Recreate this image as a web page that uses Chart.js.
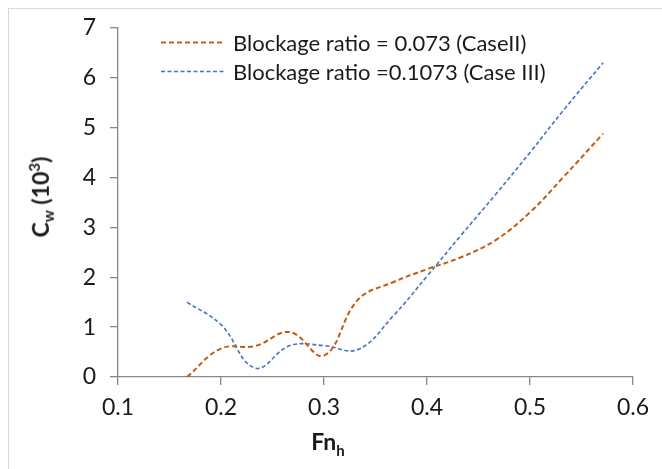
<!DOCTYPE html>
<html>
<head>
<meta charset="utf-8">
<script src="https://cdn.jsdelivr.net/npm/chart.js@4"></script>
<style>
  html, body { margin: 0; padding: 0; background: #fff; }
  #wrap { position: relative; width: 662px; height: 469px; overflow: hidden; }
  #frame { position: absolute; left: 8px; top: 8px; width: 700px; height: 500px; border: 1px solid #d9d9d9; }
  #myChart { position: absolute; left: 0; top: 0; }
  .titulo { position: absolute; font-family: Lato, "Open Sans", sans-serif; font-weight: bold; font-size: 23px; color: #1a1a1a; white-space: nowrap; }
  .titulo sub, .titulo sup { font-size: 15px; }
  #tituloY { left: 41px; top: 197px; transform: translate(-50%, -50%) rotate(-90deg); }
  #tituloX { left: 328px; top: 443px; transform: translate(-50%, -50%); }
</style>
</head>
<body>
<div id="wrap">
  <div id="frame"></div>
  <canvas id="myChart" width="662" height="469"></canvas>
  <div class="titulo" id="tituloY">C<sub>w</sub> (10<sup>3</sup>)</div>
  <div class="titulo" id="tituloX">Fn<sub>h</sub></div>
</div>
<script>
// valores
var fnh = [0.167, 0.2, 0.233, 0.267, 0.3, 0.333, 0.367, 0.4, 0.433, 0.467, 0.5, 0.533, 0.571];
var casoII = [0, 0.57, 0.62, 0.9, 0.43, 1.55, 1.9, 2.16, 2.4, 2.75, 3.3, 4.02, 4.88];
var casoIII = [1.5, 1.05, 0.18, 0.63, 0.63, 0.55, 1.22, 2.02, 2.84, 3.67, 4.5, 5.36, 6.3];
var nomes = ['Blockage ratio = 0.073 (CaseII)', 'Blockage ratio =0.1073 (Case III)'];
var xTicks = [0.1, 0.2, 0.3, 0.4, 0.5, 0.6];
var yTicks = [0, 1, 2, 3, 4, 5, 6, 7];

function montaPontos(xs, ys) {
    return xs.map((x, i) => ({ x: x, y: ys[i] }));
}

// legenda desenhada dentro da area do grafico
var legendaPlugin = {
    id: 'legendaDentro',
    afterDraw: function(chart) {
        var ctx = chart.ctx;
        ctx.save();
        ctx.font = '22px Lato';
        ctx.textBaseline = 'middle';
        ctx.fillStyle = '#1a1a1a';
        chart.data.datasets.forEach((ds, i) => {
            var y = 42.5 + i * 29;
            ctx.beginPath();
            ctx.setLineDash(ds.borderDash);
            ctx.lineWidth = ds.borderWidth;
            ctx.strokeStyle = ds.borderColor;
            ctx.moveTo(161, y);
            ctx.lineTo(225, y);
            ctx.stroke();
            ctx.setLineDash([]);
            ctx.fillText(ds.label, 233, y + 1);
        });
        ctx.restore();
    }
};

var ctx = document.getElementById('myChart').getContext('2d');
var chart = new Chart(ctx, {
    type: 'line',
    data: {
        datasets: [{
            label: nomes[0],
            data: montaPontos(fnh, casoII),
            borderColor: '#c55a11',
            backgroundColor: 'transparent',
            borderWidth: 2,
            borderDash: [5, 3],
            pointRadius: 0,
            tension: 0.4
        }, {
            label: nomes[1],
            data: montaPontos(fnh, casoIII),
            borderColor: '#4472c4',
            backgroundColor: 'transparent',
            borderWidth: 1.6,
            borderDash: [4, 2.5],
            pointRadius: 0,
            tension: 0.4
        }]
    },
    options: {
        responsive: false,
        animation: false,
        layout: { padding: { left: 0, right: 29, top: 26, bottom: 0 } },
        plugins: { legend: { display: false }, tooltip: { enabled: false } },
        scales: {
            x: {
                type: 'linear',
                min: xTicks[0],
                max: xTicks[xTicks.length - 1],
                afterBuildTicks: function(s) { s.ticks = xTicks.map(v => ({ value: v })); },
                afterFit: function(s) { s.height = 92; },
                grid: { drawOnChartArea: false, drawTicks: true, tickLength: 8, color: '#878787', lineWidth: 1.3 },
                border: { color: '#878787', width: 1.3 },
                ticks: {
                    padding: 9,
                    color: '#1a1a1a',
                    font: { family: 'Lato', size: 23 },
                    callback: v => v.toFixed(1)
                }
            },
            y: {
                min: yTicks[0],
                max: yTicks[yTicks.length - 1],
                afterBuildTicks: function(s) { s.ticks = yTicks.map(v => ({ value: v })); },
                afterFit: function(s) { s.width = 118; },
                grid: { drawOnChartArea: false, drawTicks: true, tickLength: 8, color: '#878787', lineWidth: 1.3 },
                border: { color: '#878787', width: 1.3 },
                ticks: {
                    padding: 14,
                    color: '#1a1a1a',
                    font: { family: 'Lato', size: 23 }
                }
            }
        }
    },
    plugins: [legendaPlugin]
});
</script>
</body>
</html>
